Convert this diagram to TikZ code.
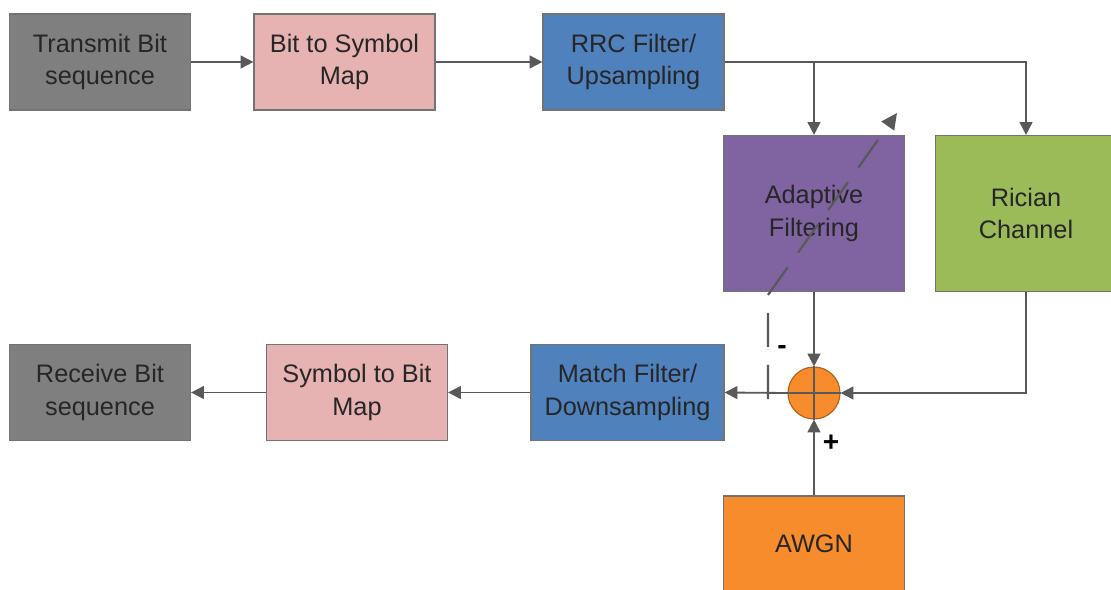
\documentclass[tikz,border=0pt]{standalone}
\usepackage{fontspec}
\setmainfont{Liberation Sans}
\usetikzlibrary{positioning,arrows.meta}
\definecolor{BoxGray}{RGB}{127,127,127}
\definecolor{BoxPink}{RGB}{230,178,178}
\definecolor{BoxBlue}{RGB}{79,129,189}
\definecolor{BoxPurple}{RGB}{128,100,162}
\definecolor{BoxGreen}{RGB}{155,187,89}
\definecolor{BoxOrange}{RGB}{246,140,44}
\definecolor{LineGray}{RGB}{89,89,89}

\begin{document}
\begin{tikzpicture}[
    x=0.025cm,
    y=-0.025cm,
    font=\fontsize{18}{23}\selectfont,
    >={Triangle[length=3.2mm,width=3.2mm]},
    block/.style={
        draw=black!55,
        line width=0.8pt,
        align=center,
        inner sep=0pt,
        minimum width=4.525cm,
        minimum height=2.4cm,
        text=black!85
    },
    sumnode/.style={
        circle,
        draw=BoxOrange!70!black,
        line width=0.8pt,
        fill=BoxOrange,
        minimum size=1.3cm,
        inner sep=0pt
    },
    arrow/.style={
        ->,
        line width=1.3pt,
        draw=LineGray
    },
    wire/.style={
        line width=1.3pt,
        draw=LineGray
    },
    adjline/.style={
        -{Triangle[length=4mm,width=3.8mm]},
        line width=1.6pt,
        draw=LineGray,
        dash pattern=on 0.85cm off 0.45cm
    },
    sign/.style={
        font=\fontsize{20}{20}\selectfont\bfseries,
        inner sep=0pt
    }
]

\useasboundingbox (0,0) rectangle (1111,590);
\fill[white] (0,0) rectangle (1111,590);

% transmit chain
\node[block, fill=BoxGray] (txbits) at (100,62) {Transmit Bit\\sequence};
\node[block, fill=BoxPink] (bitmap) at (344.5,62) {Bit to Symbol\\Map};
\node[block, fill=BoxBlue] (rrc) at (633.5,62) {RRC Filter/\\Upsampling};

\node[block, fill=BoxPurple, minimum height=3.9cm] (adapt) at (814,213.5) {Adaptive\\Filtering};
\node[block, fill=BoxGreen, minimum height=3.9cm] (rician) at (1026,213.5) {Rician\\Channel};

% receive chain
\node[block, fill=BoxGray] (rxbits) at (100,392.5) {Receive Bit\\sequence};
\node[block, fill=BoxPink] (symmap) at (357,392.5) {Symbol to Bit\\Map};
\node[block, fill=BoxBlue, minimum width=4.825cm] (match) at (627.5,392.5) {Match Filter/\\Downsampling};

\node[sumnode] (sum) at (814,393) {};
\node[block, fill=BoxOrange] (awgn) at (814,544) {AWGN};

\draw[arrow] (txbits) -- (bitmap);
\draw[arrow] (bitmap) -- (rrc);

\coordinate (split) at (adapt.north |- rrc.east);
\draw[arrow] (rrc.east) -| (rician.north);
\draw[arrow] (split) -- (adapt.north);

\draw[wire] (sum.north) -- (sum.south);
\draw[wire] (sum.west) -- (sum.east);

\draw[arrow] (adapt.south) -- (sum.north);
\draw[arrow] (rician.south) |- (sum.east);
\draw[arrow] (awgn.north) -- (sum.south);
\draw[arrow] (sum.west) -- (match.east);
\draw[arrow] (match) -- (symmap);
\draw[arrow] (symmap) -- (rxbits);

% adaptation path
\coordinate (adjbottom) at (768,399);
\coordinate (adjknee) at (768,295);
\coordinate (adjtip) at (897,113);
\draw[adjline] (adjbottom) -- (adjknee) -- (adjtip);

\node[sign] (minus) at (782,350) {-};
\node[sign] (plus) at (831,443) {+};

\end{tikzpicture}
\end{document}
